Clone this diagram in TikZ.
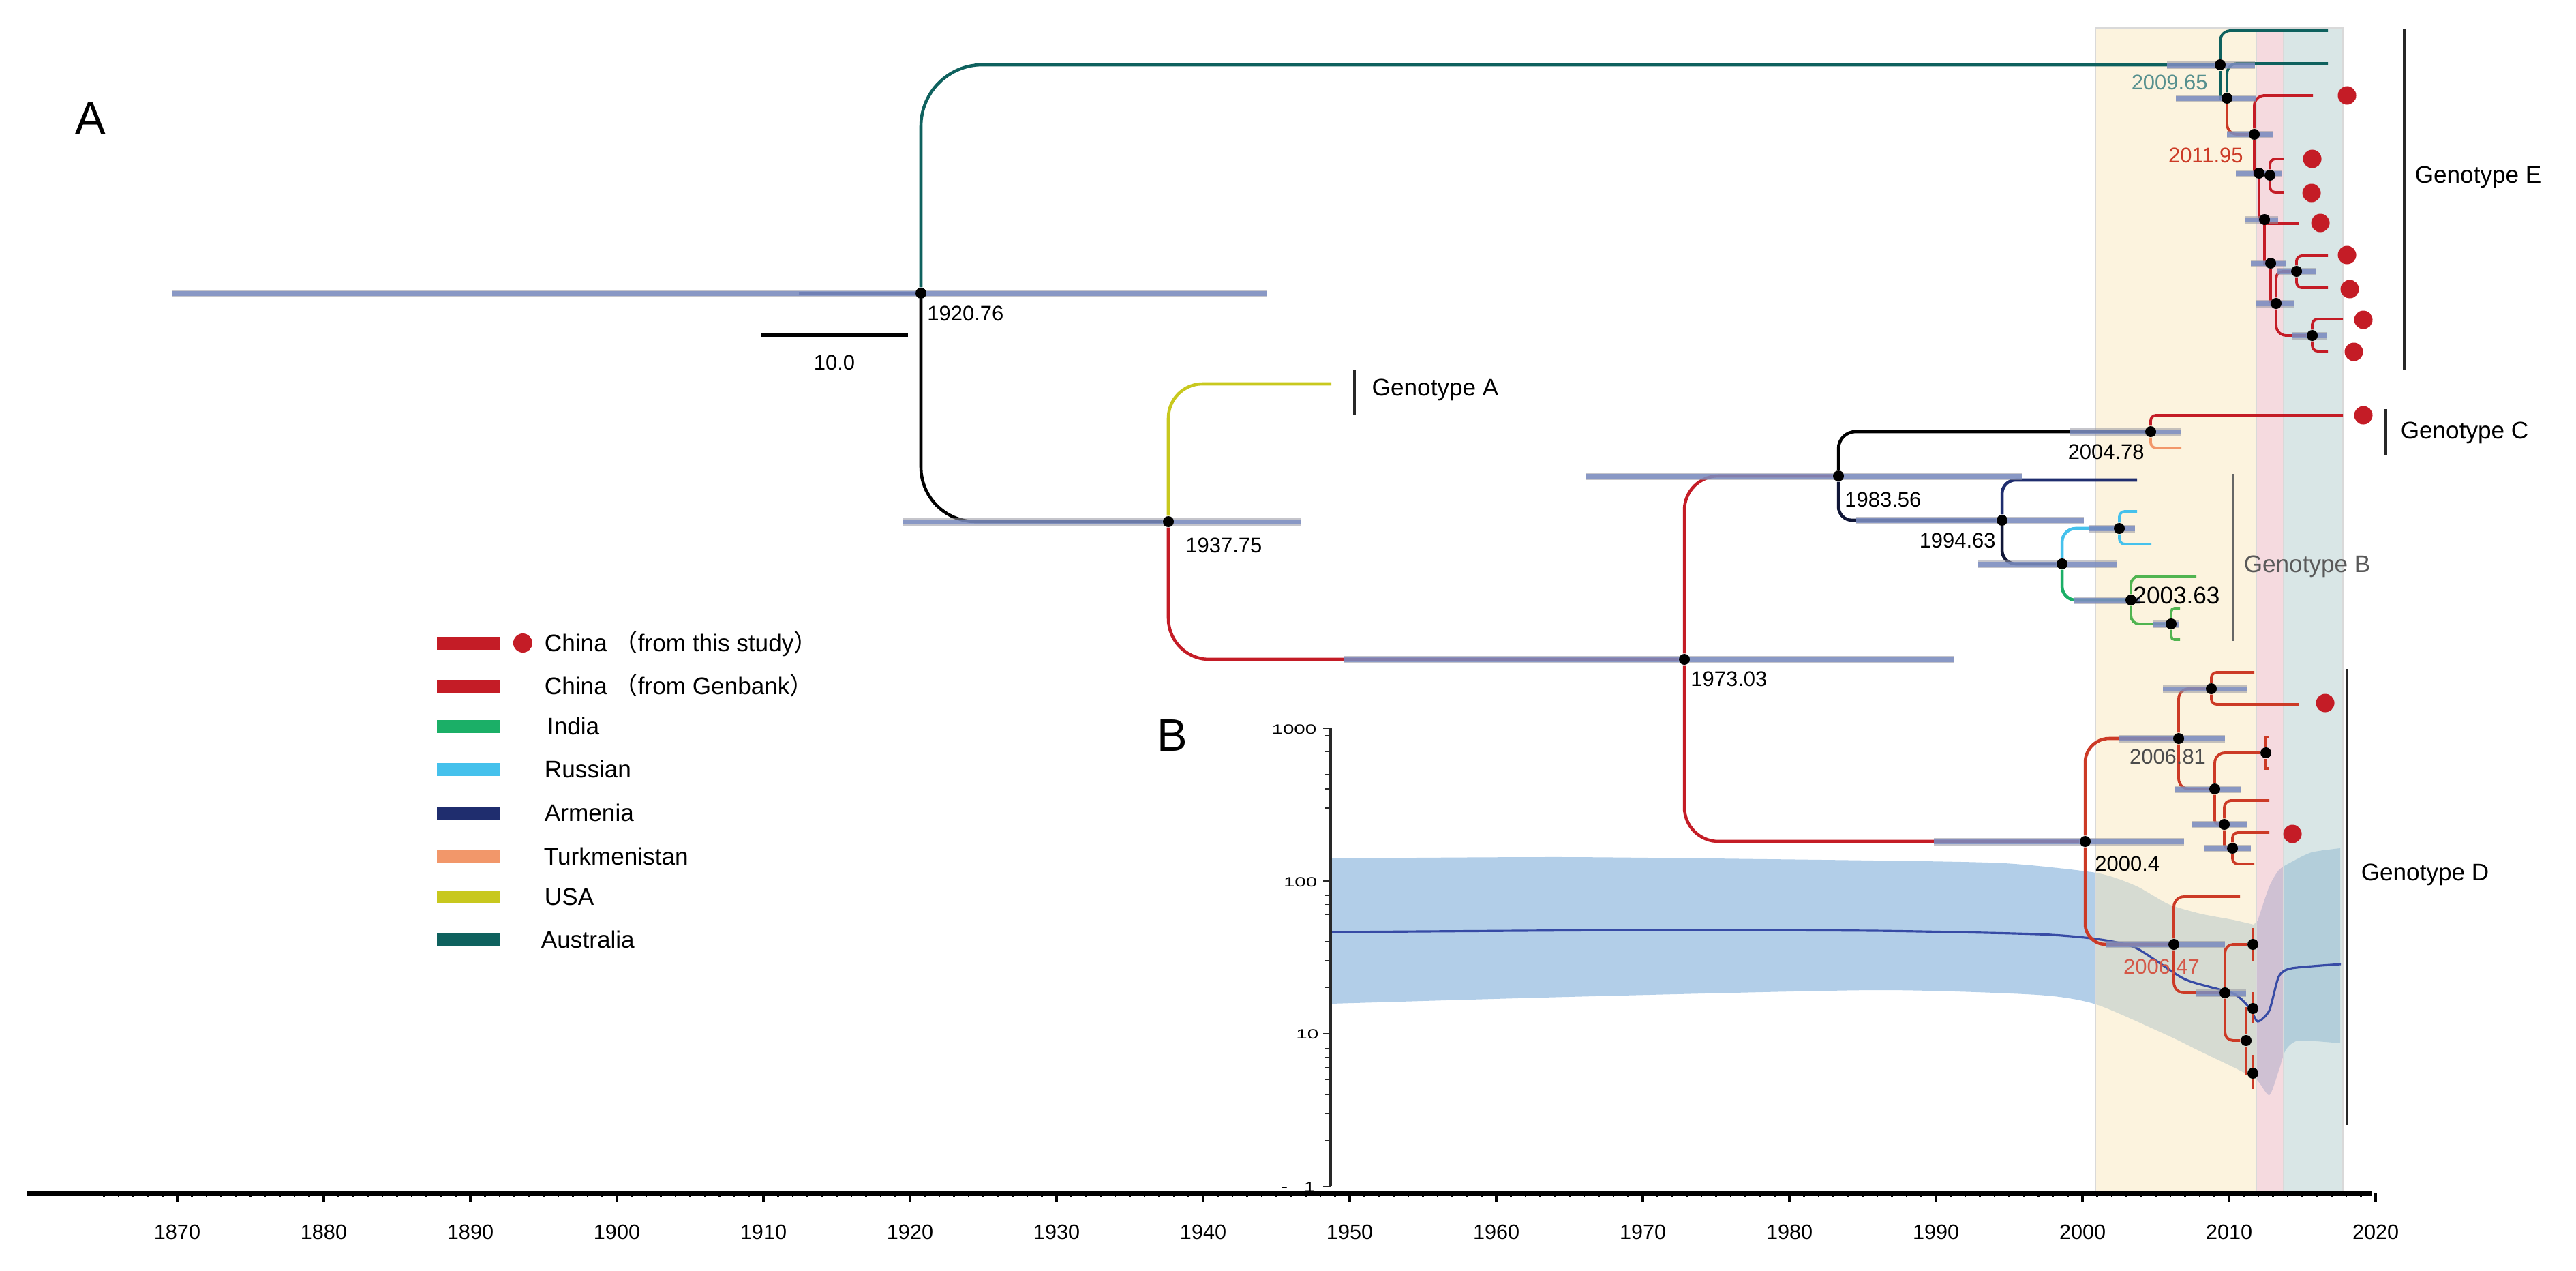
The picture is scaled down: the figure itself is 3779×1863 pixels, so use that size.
\documentclass[tikz,border=0pt]{standalone}
\usepackage{fontspec}
\setmainfont{Liberation Sans}
\newfontfamily\cjkfont{Noto Sans CJK SC}
\usepackage{tikz}
\usetikzlibrary{positioning}
\definecolor{chinared}{RGB}{196,28,38}
\definecolor{treered}{RGB}{204,58,38}
\definecolor{indiagreen}{RGB}{27,175,103}
\definecolor{indialight}{RGB}{80,180,80}
\definecolor{russiablue}{RGB}{69,193,236}
\definecolor{armenianavy}{RGB}{31,45,110}
\definecolor{turkorange}{RGB}{242,151,106}
\definecolor{usayellow}{RGB}{200,200,30}
\definecolor{austeal}{RGB}{14,97,94}
\definecolor{hpdblue}{RGB}{118,138,196}
\definecolor{hpdedge}{RGB}{150,150,160}
\definecolor{bandyellow}{RGB}{250,232,190}
\definecolor{bandpink}{RGB}{236,181,192}
\definecolor{bandteal}{RGB}{180,206,206}
\definecolor{popblue}{RGB}{178,206,232}
\definecolor{popline}{RGB}{55,75,165}
\definecolor{axisgray}{RGB}{40,40,40}
\tikzstyle{branch} = [line width=1.3pt, rounded corners=0.15cm]
\tikzstyle{twig} = [line width=1.1pt, rounded corners=0.08cm]
\tikzstyle{hpdrim} = [line width=0.11cm, draw=hpdedge, opacity=0.55]
\tikzstyle{hpdbar} = [line width=0.07cm, draw=hpdblue, opacity=0.75]
\tikzstyle{tnode} = [circle, fill=black, inner sep=0pt, minimum size=0.16cm]
\tikzstyle{studydot} = [circle, fill=chinared, inner sep=0pt, minimum size=0.27cm]
\tikzstyle{datelabel} = [font=\fontsize{8.8}{10}\selectfont, inner sep=0pt, text height=6.3pt, text depth=0pt]
\tikzstyle{gtbar} = [line width=1.2pt, draw=axisgray]
\tikzstyle{gtlabel} = [font=\fontsize{10}{12}\selectfont, inner sep=0pt, text height=7.2pt, text depth=0pt, anchor=west]
\tikzstyle{legswatch} = [rectangle, inner sep=0pt, minimum width=0.91cm, minimum height=0.19cm]
\tikzstyle{legtext} = [font=\fontsize{10}{12}\selectfont, inner sep=0pt, text height=7.2pt, text depth=0pt]
\tikzstyle{axislabel} = [font=\fontsize{8.7}{10}\selectfont, inner sep=0pt, text height=6.2pt, text depth=0pt]
\tikzstyle{baxislabel} = [font=\fontsize{5.6}{6}\selectfont, inner sep=0pt, text height=4pt, text depth=0pt, anchor=east]
\tikzstyle{panel} = [font=\fontsize{19}{22}\selectfont, inner sep=0pt, text height=13.6pt, text depth=0pt]
\newcommand{\hpd}[3]{\draw[hpdrim] (#2,0 |- #1) -- (#3,0 |- #1);
  \draw[hpdbar] (#2,0 |- #1) -- (#3,0 |- #1);}
\pgfdeclarelayer{back}
\pgfdeclarelayer{lines}
\pgfdeclarelayer{bars}
\pgfsetlayers{back,lines,bars,main}

\begin{document}
\begin{tikzpicture}[x=0.01cm, y=-0.01cm]
\useasboundingbox (0,0) rectangle (3779,1863);

% Population size and time bands
\begin{pgfonlayer}{back}
\fill[popblue] plot[smooth, tension=0.4] coordinates {(1952,1259) (2300,1257) (2750,1262) (2941,1266) (3075,1280) (3133,1299) (3181,1326) (3228,1340) (3276,1349) (3306,1356)}
  -- plot[smooth, tension=0.4] coordinates {(3312,1350) (3329,1300) (3343,1276) (3360,1265) (3391,1250) (3433,1244)}
  -- plot[smooth, tension=0.4] coordinates {(3433,1530) (3372,1526) (3353,1540) (3343,1570) (3329,1606) (3310,1583) (3276,1565) (3228,1542) (3181,1519) (3075,1473) (2989,1459) (2750,1452) (2300,1462) (1952,1472)} -- cycle;
\fill[bandyellow, opacity=0.5] (3074,41) rectangle (3310,1748);
\fill[bandpink, opacity=0.5] (3310,41) rectangle (3350,1748);
\fill[bandteal, opacity=0.5] (3350,41) rectangle (3437,1748);
\draw[black!15, line width=0.6pt] (3074,41) rectangle (3437,1748);
\draw[black!15, line width=0.6pt] (3310,41) -- (3310,1748) (3350,41) -- (3350,1748);
\draw[popline, line width=0.9pt] plot[smooth, tension=0.4] coordinates {(1952,1367) (2400,1364) (2750,1365) (2989,1370) (3075,1377) (3133,1390) (3205,1436) (3276,1457) (3300,1478) (3312,1498) (3329,1482) (3343,1432) (3362,1420) (3434,1414)};
\end{pgfonlayer}

% Time axis
\draw[line width=0.07cm] (40,1750) -- (3479,1750);
\foreach \yr in {1865,...,2019}
  \draw[line width=0.6pt] ({260+(\yr-1870)*21.5},1750) -- ++(0,6);
\foreach \yr in {1870,1880,...,2020} {
  \draw[line width=1.2pt] ({260+(\yr-1870)*21.5},1750) -- ++(0,13);
  \node[axislabel] (ax\yr) at ({260+(\yr-1870)*21.5},1807) {\yr};
}

% Population axis
\draw[line width=1.1pt, axisgray] (1952,1740) -- (1952,1068);
\foreach \d in {0,1,2,3}
  \draw[axisgray] (1952,{1740-224*\d}) -- ++(-11,0);
\foreach \d in {0,1,2}
  \foreach \m in {2,...,9}
    \draw[axisgray] (1952,{1740-224*(\d+log10(\m))}) -- ++(-8,0);
\node[baxislabel] (b1000) at (1932,1069) {\scalebox{1.5}[1]{1000}};
\node[baxislabel] (b100) at (1933,1293) {\scalebox{1.5}[1]{100}};
\node[baxislabel] (b10) at (1935,1516) {\scalebox{1.5}[1]{10}};
\node[baxislabel] (b1) at (1930,1740) {\scalebox{1.5}[1]{-\hspace{4.5pt}1}};

% Panel letters
\node[panel] (pA) at (133,173) {A};
\node[panel] (pB) at (1720,1078) {B};

% Tree nodes
\coordinate (rootstart) at (1172,430);
\node[tnode] (n1920) at (1351,430) {};
\node[tnode] (n1937) at (1714,765) {};
\node[tnode] (n1973) at (2471,967) {};
\node[tnode] (n1983) at (2697,698) {};
\node[tnode] (n2004) at (3155,633) {};
\node[tnode] (n1994) at (2937,763) {};
\node[tnode] (nBx) at (3025,827) {};
\node[tnode] (nBy) at (3109,775) {};
\node[tnode] (n2003) at (3126,880) {};
\node[tnode] (nBz) at (3185,915) {};
\node[tnode] (n2000) at (3059,1234) {};
\node[tnode] (n2006a) at (3196,1083) {};
\node[tnode] (nD2) at (3244,1010) {};
\node[tnode] (nD3) at (3249,1157) {};
\node[tnode] (nD4) at (3324,1104) {};
\node[tnode] (nD5) at (3263,1209) {};
\node[tnode] (nD6) at (3275,1244) {};
\node[tnode] (n2006b) at (3189,1385) {};
\node[tnode] (nD8) at (3264,1456) {};
\node[tnode] (nD9) at (3305,1385) {};
\node[tnode] (nD10) at (3295,1526) {};
\node[tnode] (nD11) at (3305,1479) {};
\node[tnode] (nD12) at (3305,1574) {};
\node[tnode] (n2009) at (3257,95) {};
\node[tnode] (nE2) at (3267,144) {};
\node[tnode] (n2011) at (3307,197) {};
\node[tnode] (nE4) at (3314,254) {};
\node[tnode] (nE5) at (3330,257) {};
\node[tnode] (nE6) at (3322,322) {};
\node[tnode] (nE7) at (3331,386) {};
\node[tnode] (nE8) at (3369,398) {};
\node[tnode] (nE9) at (3339,445) {};
\node[tnode] (nE10) at (3392,492) {};

% Leaf ends
\coordinate (lUSA) at (1953,563);
\coordinate (lAus1) at (3415,45);
\coordinate (lAus2) at (3415,93);
\coordinate (lE1) at (3393,140);
\coordinate (lE2a) at (3350,233);
\coordinate (lE2b) at (3350,282);
\coordinate (lE3) at (3372,328);
\coordinate (lE4a) at (3415,375);
\coordinate (lE4b) at (3415,422);
\coordinate (lE5a) at (3437,468);
\coordinate (lE5b) at (3415,515);
\coordinate (lC) at (3437,609);
\coordinate (lTk) at (3200,657);
\coordinate (lArm) at (3135,704);
\coordinate (lRu1) at (3135,750);
\coordinate (lRu2) at (3156,798);
\coordinate (lIn1) at (3222,845);
\coordinate (lIn2) at (3198,892);
\coordinate (lIn3) at (3198,938);
\coordinate (lD1) at (3307,986);
\coordinate (lD2) at (3372,1033);
\coordinate (lD3) at (3329,1081);
\coordinate (lD4) at (3329,1127);
\coordinate (lD5) at (3329,1174);
\coordinate (lD6) at (3329,1221);
\coordinate (lD7) at (3307,1267);
\coordinate (lD8) at (3286,1315);
\coordinate (lD9a) at (3305,1361);
\coordinate (lD9b) at (3305,1409);
\coordinate (lD11a) at (3305,1455);
\coordinate (lD11b) at (3305,1501);
\coordinate (lD12a) at (3305,1547);
\coordinate (lD12b) at (3305,1597);

% Branches
\begin{pgfonlayer}{lines}
\draw[branch, armenianavy] (rootstart) -- (n1920);
\draw[branch, austeal, rounded corners=0.9cm] (n1920) |- (n2009);
\draw[branch, black, rounded corners=0.8cm] (n1920) |- (n1937);
\draw[branch, usayellow, rounded corners=0.5cm] (n1937) |- (lUSA);
\draw[branch, chinared, rounded corners=0.6cm] (n1937) |- (n1973);
\draw[branch, chinared, rounded corners=0.5cm] (n1973) |- (n1983);
\draw[branch, chinared, rounded corners=0.5cm] (n1973) |- (n2000);
% genotype C and B
\draw[branch, black, rounded corners=0.25cm] (n1983) |- (n2004);
\draw[branch, armenianavy!50!black, rounded corners=0.2cm] (n1983) |- (n1994);
\draw[twig, chinared] (n2004) |- (lC);
\draw[twig, turkorange] (n2004) |- (lTk);
\draw[branch, armenianavy, rounded corners=0.2cm] (n1994) |- (lArm);
\draw[branch, armenianavy!50!black, rounded corners=0.2cm] (n1994) |- (nBx);
\draw[branch, russiablue, rounded corners=0.2cm] (nBx) |- (nBy);
\draw[branch, indiagreen, rounded corners=0.2cm] (nBx) |- (n2003);
\draw[twig, russiablue] (nBy) |- (lRu1);
\draw[twig, russiablue] (nBy) |- (lRu2);
\draw[twig, indialight, rounded corners=0.12cm] (n2003) |- (lIn1);
\draw[twig, indialight, rounded corners=0.12cm] (n2003) |- (nBz);
\draw[twig, indialight, rounded corners=0.05cm] (nBz) |- (lIn2);
\draw[twig, indialight, rounded corners=0.05cm] (nBz) |- (lIn3);
% genotype D
\draw[branch, treered, rounded corners=0.35cm] (n2000) |- (n2006a);
\draw[branch, treered, rounded corners=0.3cm] (n2000) |- (n2006b);
\draw[twig, treered, rounded corners=0.15cm] (n2006a) |- (nD2);
\draw[twig, treered, rounded corners=0.15cm] (n2006a) |- (nD3);
\draw[twig, treered] (nD2) |- (lD1);
\draw[twig, treered] (nD2) |- (lD2);
\draw[twig, treered, rounded corners=0.15cm] (nD3) |- (nD4);
\draw[twig, treered, rounded corners=0.06cm] (nD3) |- (nD5);
\draw[twig, treered, sharp corners] (nD4) |- (lD3);
\draw[twig, treered, sharp corners] (nD4) |- (lD4);
\draw[twig, treered, rounded corners=0.1cm] (nD5) |- (lD5);
\draw[twig, treered, rounded corners=0.05cm] (nD5) |- (nD6);
\draw[twig, treered] (nD6) |- (lD6);
\draw[twig, treered] (nD6) |- (lD7);
\draw[twig, treered, rounded corners=0.15cm] (n2006b) |- (lD8);
\draw[twig, treered, rounded corners=0.15cm] (n2006b) |- (nD8);
\draw[twig, treered, rounded corners=0.12cm] (nD8) |- (nD9);
\draw[twig, treered, rounded corners=0.12cm] (nD8) |- (nD10);
\draw[twig, treered, sharp corners] (nD10) |- (nD11);
\draw[twig, treered, sharp corners] (nD10) |- (nD12);
\draw[twig, treered] (lD9a) -- (lD9b);
\draw[twig, treered] (lD11a) -- (lD11b);
\draw[twig, treered] (lD12a) -- (lD12b);
% genotype E
\draw[twig, austeal, rounded corners=0.15cm] (n2009) |- (lAus1);
\draw[twig, austeal, sharp corners] (n2009) |- (nE2);
\draw[twig, austeal, rounded corners=0.15cm] (nE2) |- (lAus2);
\draw[twig, treered, rounded corners=0.15cm] (nE2) |- (n2011);
\draw[twig, chinared, rounded corners=0.15cm] (n2011) |- (lE1);
\draw[twig, chinared, sharp corners] (n2011) |- (nE4);
\draw[twig, chinared] (nE4) -- (nE5);
\draw[twig, chinared] (nE5) |- (lE2a);
\draw[twig, chinared] (nE5) |- (lE2b);
\draw[twig, chinared, sharp corners] (nE4) |- (nE6);
\draw[twig, chinared, sharp corners] (nE6) |- (lE3);
\draw[twig, chinared, sharp corners] (nE6) |- (nE7);
\draw[twig, chinared, sharp corners] (nE7) |- (nE9);
\draw[twig, chinared, rounded corners=0.1cm] (nE9) |- (nE8);
\draw[twig, chinared] (nE8) |- (lE4a);
\draw[twig, chinared] (nE8) |- (lE4b);
\draw[twig, chinared, rounded corners=0.15cm] (nE9) |- (nE10);
\draw[twig, chinared] (nE10) |- (lE5a);
\draw[twig, chinared] (nE10) |- (lE5b);
\end{pgfonlayer}

% 95% HPD bars
\begin{pgfonlayer}{bars}
\hpd{n1920}{253}{1858}
\hpd{n1937}{1325}{1909}
\hpd{n1973}{1971}{2866}
\hpd{n1983}{2327}{2967}
\hpd{n2004}{3036}{3200}
\hpd{n1994}{2723}{3057}
\hpd{nBx}{2901}{3106}
\hpd{nBy}{3064}{3132}
\hpd{n2003}{3043}{3140}
\hpd{nBz}{3158}{3197}
\hpd{n2000}{2837}{3204}
\hpd{n2006a}{3109}{3264}
\hpd{nD2}{3173}{3296}
\hpd{nD3}{3190}{3288}
\hpd{nD5}{3216}{3297}
\hpd{nD6}{3233}{3302}
\hpd{n2006b}{3090}{3264}
\hpd{nD8}{3221}{3295}
\hpd{n2009}{3179}{3308}
\hpd{nE2}{3192}{3310}
\hpd{n2011}{3267}{3335}
\hpd{nE4}{3280}{3347}
\hpd{nE6}{3293}{3342}
\hpd{nE7}{3302}{3354}
\hpd{nE8}{3340}{3398}
\hpd{nE9}{3309}{3365}
\hpd{nE10}{3363}{3413}
\end{pgfonlayer}

% Samples from this study
\node[studydot] (dE1) at (3443,140) {};
\node[studydot] (dE2) at (3392,233) {};
\node[studydot] (dE3) at (3391,283) {};
\node[studydot] (dE4) at (3404,327) {};
\node[studydot] (dE5) at (3443,374) {};
\node[studydot] (dE6) at (3447,424) {};
\node[studydot] (dE7) at (3467,469) {};
\node[studydot] (dE8) at (3453,516) {};
\node[studydot] (dC) at (3467,609) {};
\node[studydot] (dD1) at (3411,1031) {};
\node[studydot] (dD2) at (3363,1223) {};

% Node ages
\node[datelabel, right=0pt of n1920, yshift=-0.29cm] (t1920) {1920.76};
\node[datelabel, right=0.16cm of n1937, yshift=-0.34cm] (t1937) {1937.75};
\node[datelabel, right=0pt of n1973, yshift=-0.28cm] (t1973) {1973.03};
\node[datelabel, right=0pt of n1983, yshift=-0.34cm] (t1983) {1983.56};
\node[datelabel, left=0pt of n2004, yshift=-0.29cm] (t2004) {2004.78};
\node[datelabel, left=0pt of n1994, yshift=-0.29cm] (t1994) {1994.63};
\node[datelabel, font=\fontsize{10}{12}\selectfont, text height=7.2pt, right=-0.06cm of n2003, yshift=0.07cm] (t2003) {2003.63};
\node[datelabel, right=0.05cm of n2000, yshift=-0.32cm] (t2000) {2000.4};
\node[datelabel, text=black!70, below=0.06cm of n2006a, xshift=-0.16cm] (t2006a) {2006.81};
\node[datelabel, text=treered!85!white, below=0.12cm of n2006b, xshift=-0.18cm] (t2006b) {2006.47};
\node[datelabel, text=austeal!70!white, left=0.09cm of n2009, yshift=-0.25cm] (t2009) {2009.65};
\node[datelabel, text=treered, left=0.07cm of n2011, yshift=-0.3cm] (t2011) {2011.95};

% Scale bar
\coordinate (sbleft) at (1117,491);
\coordinate (sbright) at (1332,491);
\draw[line width=1.5pt] (sbleft) -- (sbright);
\node[datelabel] (sblabel) at (1224,531) {10.0};

% Genotype brackets
\coordinate (gAtop) at (1987,542);
\coordinate (gAbot) at (1987,608);
\draw[gtbar] (gAtop) -- (gAbot);
\node[gtlabel] (gtA) at (2012,568) {Genotype A};
\coordinate (gBtop) at (3276,695);
\coordinate (gBbot) at (3276,940);
\draw[gtbar, draw=black!60] (gBtop) -- (gBbot);
\node[gtlabel, text=black!65] (gtB) at (3291,827) {Genotype B};
\coordinate (gCtop) at (3500,600);
\coordinate (gCbot) at (3500,667);
\draw[gtbar] (gCtop) -- (gCbot);
\node[gtlabel] (gtC) at (3521,631) {Genotype C};
\coordinate (gDtop) at (3443,981);
\coordinate (gDbot) at (3443,1650);
\draw[gtbar] (gDtop) -- (gDbot);
\node[gtlabel] (gtD) at (3463,1279) {Genotype D};
\coordinate (gEtop) at (3527,42);
\coordinate (gEbot) at (3527,542);
\draw[gtbar] (gEtop) -- (gEbot);
\node[gtlabel] (gtE) at (3542,256) {Genotype E};

% Legend
\node[legswatch, fill=chinared] (sw1) at (687,943) {};
\node[legswatch, fill=chinared, below of=sw1, node distance=0.63cm] (sw2) {};
\node[legswatch, fill=indiagreen, below of=sw2, node distance=0.59cm] (sw3) {};
\node[legswatch, fill=russiablue, below of=sw3, node distance=0.63cm] (sw4) {};
\node[legswatch, fill=armenianavy, below of=sw4, node distance=0.64cm] (sw5) {};
\node[legswatch, fill=turkorange, below of=sw5, node distance=0.64cm] (sw6) {};
\node[legswatch, fill=usayellow, below of=sw6, node distance=0.59cm] (sw7) {};
\node[legswatch, fill=austeal, below of=sw7, node distance=0.63cm] (sw8) {};
\node[studydot, minimum size=0.28cm, right=0.19cm of sw1] (legdot) {};
\node[legtext, right=0.65cm of sw1] (lt1) {China {\cjkfont （}from this study{\cjkfont ）}};
\node[legtext, right=0.65cm of sw2] (lt2) {China {\cjkfont （}from Genbank{\cjkfont ）}};
\node[legtext, right=0.69cm of sw3] (lt3) {India};
\node[legtext, right=0.65cm of sw4] (lt4) {Russian};
\node[legtext, right=0.65cm of sw5] (lt5) {Armenia};
\node[legtext, right=0.64cm of sw6] (lt6) {Turkmenistan};
\node[legtext, right=0.65cm of sw7] (lt7) {USA};
\node[legtext, right=0.60cm of sw8] (lt8) {Australia};
\end{tikzpicture}
\end{document}
